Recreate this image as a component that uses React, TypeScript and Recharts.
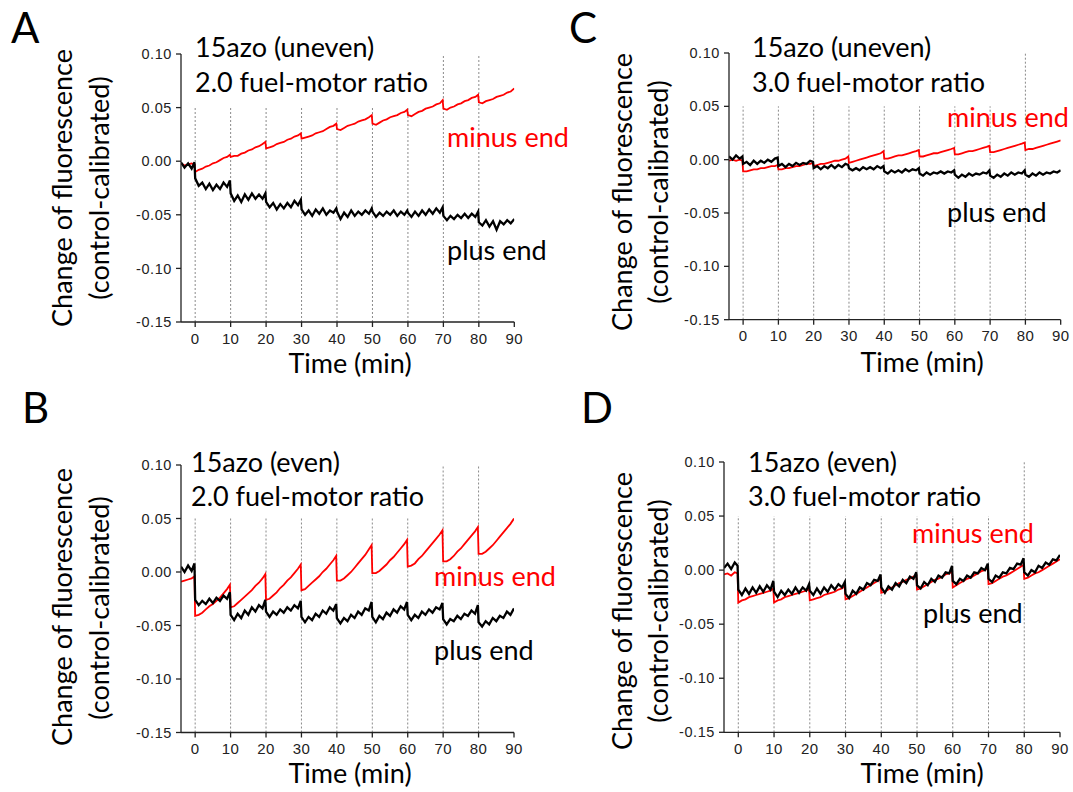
import { LineChart, Line, XAxis, YAxis, ReferenceLine } from "recharts";

// shared time axis (min); the x.8 points sit just before each fuel addition
const TIME = [
  -4, -3, -2, -1, -0.2,
  0, 1, 2, 3, 4, 5, 6, 7, 8, 9, 9.8,
  10, 11, 12, 13, 14, 15, 16, 17, 18, 19, 19.8,
  20, 21, 22, 23, 24, 25, 26, 27, 28, 29, 29.8,
  30, 31, 32, 33, 34, 35, 36, 37, 38, 39, 39.8,
  40, 41, 42, 43, 44, 45, 46, 47, 48, 49, 49.8,
  50, 51, 52, 53, 54, 55, 56, 57, 58, 59, 59.8,
  60, 61, 62, 63, 64, 65, 66, 67, 68, 69, 69.8,
  70, 71, 72, 73, 74, 75, 76, 77, 78, 79, 79.8,
  80, 81, 82, 83, 84, 85, 86, 87, 88, 89, 90,
];

const X_TICKS = [0, 10, 20, 30, 40, 50, 60, 70, 80, 90];
const Y_TICKS = [-0.15, -0.1, -0.05, 0, 0.05, 0.1];
const FUEL_TIMES = [0, 10, 20, 30, 40, 50, 60, 70, 80];

// A: 15azo (uneven), 2.0 ratio
const A_MINUS = [
  -0.002, -0.004, -0.003, -0.002, -0.003,
  -0.010, -0.008, -0.007, -0.005, -0.004, -0.002, -0.001, 0.001, 0.003, 0.004, 0.006,
  0.004, 0.005, 0.005, 0.007, 0.008, 0.010, 0.011, 0.013, 0.014, 0.016, 0.018,
  0.012, 0.013, 0.014, 0.016, 0.017, 0.018, 0.020, 0.021, 0.023, 0.024, 0.026,
  0.021, 0.022, 0.023, 0.024, 0.026, 0.027, 0.028, 0.030, 0.032, 0.033, 0.035,
  0.030, 0.029, 0.031, 0.033, 0.034, 0.035, 0.037, 0.038, 0.039, 0.041, 0.043,
  0.035, 0.034, 0.036, 0.038, 0.039, 0.041, 0.042, 0.043, 0.045, 0.046, 0.048,
  0.043, 0.042, 0.044, 0.046, 0.047, 0.049, 0.050, 0.051, 0.053, 0.054, 0.057,
  0.049, 0.048, 0.050, 0.051, 0.053, 0.054, 0.056, 0.057, 0.059, 0.060, 0.062,
  0.055, 0.054, 0.056, 0.057, 0.058, 0.060, 0.061, 0.062, 0.064, 0.065, 0.068,
];
const A_PLUS = [
  -0.001, -0.006, -0.002, -0.007, -0.001,
  -0.016, -0.023, -0.020, -0.026, -0.021, -0.027, -0.022, -0.026, -0.020, -0.024, -0.018,
  -0.030, -0.037, -0.032, -0.038, -0.031, -0.036, -0.030, -0.035, -0.031, -0.035, -0.030,
  -0.038, -0.043, -0.039, -0.045, -0.040, -0.044, -0.039, -0.043, -0.037, -0.041, -0.036,
  -0.045, -0.050, -0.046, -0.051, -0.045, -0.049, -0.044, -0.050, -0.046, -0.048, -0.044,
  -0.047, -0.054, -0.048, -0.052, -0.046, -0.051, -0.047, -0.050, -0.046, -0.049, -0.044,
  -0.047, -0.052, -0.048, -0.051, -0.047, -0.050, -0.046, -0.051, -0.047, -0.050, -0.046,
  -0.048, -0.052, -0.047, -0.051, -0.046, -0.050, -0.045, -0.049, -0.044, -0.048, -0.043,
  -0.051, -0.055, -0.051, -0.054, -0.050, -0.053, -0.049, -0.053, -0.049, -0.052, -0.047,
  -0.057, -0.060, -0.055, -0.061, -0.056, -0.064, -0.056, -0.059, -0.055, -0.058, -0.054,
];

// B: 15azo (even), 2.0 ratio
const B_MINUS = [
  -0.009, -0.008, -0.007, -0.006, -0.004,
  -0.041, -0.040, -0.038, -0.035, -0.032, -0.030, -0.027, -0.024, -0.020, -0.016, -0.012,
  -0.033, -0.032, -0.029, -0.026, -0.023, -0.020, -0.017, -0.013, -0.010, -0.006, -0.002,
  -0.026, -0.025, -0.022, -0.019, -0.015, -0.012, -0.008, -0.005, -0.001, 0.003, 0.007,
  -0.017, -0.016, -0.013, -0.010, -0.007, -0.004, 0.000, 0.003, 0.007, 0.011, 0.015,
  -0.008, -0.008, -0.006, -0.003, 0.000, 0.004, 0.008, 0.012, 0.016, 0.021, 0.025,
  -0.001, -0.001, 0.001, 0.004, 0.007, 0.011, 0.014, 0.018, 0.022, 0.026, 0.030,
  0.005, 0.006, 0.008, 0.012, 0.015, 0.019, 0.023, 0.027, 0.031, 0.035, 0.039,
  0.010, 0.010, 0.012, 0.015, 0.019, 0.022, 0.026, 0.030, 0.034, 0.038, 0.042,
  0.017, 0.017, 0.019, 0.022, 0.025, 0.029, 0.033, 0.037, 0.041, 0.045, 0.050,
];
const B_PLUS = [
  0.005, 0.000, 0.006, 0.001, 0.008,
  -0.026, -0.031, -0.027, -0.030, -0.025, -0.029, -0.024, -0.027, -0.022, -0.025, -0.019,
  -0.040, -0.045, -0.039, -0.043, -0.036, -0.040, -0.033, -0.037, -0.031, -0.034, -0.026,
  -0.037, -0.042, -0.037, -0.040, -0.035, -0.038, -0.033, -0.036, -0.031, -0.034, -0.027,
  -0.042, -0.047, -0.042, -0.045, -0.039, -0.042, -0.036, -0.039, -0.033, -0.036, -0.030,
  -0.043, -0.048, -0.043, -0.046, -0.040, -0.043, -0.037, -0.040, -0.034, -0.036, -0.028,
  -0.042, -0.047, -0.041, -0.044, -0.038, -0.041, -0.035, -0.038, -0.032, -0.035, -0.028,
  -0.040, -0.045, -0.040, -0.043, -0.037, -0.040, -0.035, -0.038, -0.033, -0.035, -0.029,
  -0.044, -0.049, -0.044, -0.046, -0.041, -0.044, -0.039, -0.041, -0.036, -0.039, -0.031,
  -0.047, -0.051, -0.046, -0.049, -0.043, -0.046, -0.041, -0.043, -0.037, -0.040, -0.034,
];

// C: 15azo (uneven), 3.0 ratio
const C_MINUS = [
  -0.001, 0.000, -0.001, 0.000, -0.001,
  -0.011, -0.011, -0.010, -0.009, -0.009, -0.008, -0.008, -0.007, -0.006, -0.006, -0.005,
  -0.009, -0.009, -0.008, -0.008, -0.007, -0.006, -0.006, -0.005, -0.004, -0.004, -0.003,
  -0.006, -0.005, -0.004, -0.004, -0.003, -0.002, -0.001, -0.001, 0.000, 0.001, 0.003,
  -0.003, -0.002, -0.001, 0.000, 0.001, 0.002, 0.003, 0.004, 0.005, 0.006, 0.008,
  0.001, 0.001, 0.002, 0.003, 0.004, 0.004, 0.005, 0.006, 0.007, 0.008, 0.009,
  0.003, 0.003, 0.004, 0.005, 0.006, 0.006, 0.007, 0.008, 0.009, 0.010, 0.011,
  0.005, 0.005, 0.006, 0.007, 0.008, 0.008, 0.009, 0.010, 0.011, 0.012, 0.013,
  0.007, 0.007, 0.008, 0.009, 0.010, 0.011, 0.012, 0.013, 0.014, 0.015, 0.016,
  0.009, 0.010, 0.010, 0.011, 0.012, 0.013, 0.014, 0.015, 0.016, 0.017, 0.018,
];
const C_PLUS = [
  0.003, 0.000, 0.004, 0.001, 0.003,
  -0.004, -0.002, -0.005, -0.001, -0.004, -0.001, -0.003, 0.000, -0.002, 0.001, 0.002,
  -0.006, -0.004, -0.007, -0.004, -0.006, -0.003, -0.005, -0.003, -0.004, -0.001, -0.002,
  -0.008, -0.006, -0.009, -0.006, -0.008, -0.005, -0.008, -0.005, -0.007, -0.004, -0.005,
  -0.008, -0.010, -0.008, -0.010, -0.007, -0.009, -0.007, -0.009, -0.006, -0.008, -0.006,
  -0.011, -0.013, -0.010, -0.012, -0.010, -0.012, -0.009, -0.011, -0.009, -0.010, -0.008,
  -0.013, -0.015, -0.012, -0.014, -0.012, -0.013, -0.011, -0.013, -0.011, -0.012, -0.010,
  -0.014, -0.017, -0.014, -0.016, -0.013, -0.015, -0.013, -0.014, -0.012, -0.013, -0.010,
  -0.015, -0.017, -0.014, -0.016, -0.013, -0.015, -0.012, -0.014, -0.012, -0.013, -0.010,
  -0.014, -0.016, -0.013, -0.015, -0.012, -0.014, -0.012, -0.013, -0.011, -0.012, -0.010,
];

// D: 15azo (even), 3.0 ratio
const D_MINUS = [
  -0.004, -0.003, -0.005, -0.002, -0.003,
  -0.030, -0.028, -0.027, -0.025, -0.024, -0.023, -0.022, -0.021, -0.020, -0.019, -0.017,
  -0.030, -0.028, -0.027, -0.025, -0.024, -0.023, -0.022, -0.021, -0.020, -0.019, -0.017,
  -0.028, -0.027, -0.026, -0.025, -0.023, -0.022, -0.021, -0.020, -0.018, -0.017, -0.015,
  -0.027, -0.026, -0.024, -0.022, -0.020, -0.018, -0.016, -0.014, -0.012, -0.010, -0.008,
  -0.021, -0.020, -0.018, -0.016, -0.014, -0.012, -0.011, -0.009, -0.008, -0.006, -0.005,
  -0.018, -0.017, -0.015, -0.013, -0.011, -0.009, -0.008, -0.006, -0.004, -0.003, -0.001,
  -0.016, -0.014, -0.012, -0.010, -0.008, -0.007, -0.005, -0.003, -0.001, 0.000, 0.002,
  -0.013, -0.012, -0.010, -0.008, -0.006, -0.005, -0.003, -0.001, 0.001, 0.003, 0.005,
  -0.008, -0.007, -0.005, -0.003, -0.002, 0.000, 0.002, 0.004, 0.006, 0.008, 0.010,
];
const D_PLUS = [
  0.002, 0.006, 0.001, 0.007, 0.004,
  -0.018, -0.023, -0.017, -0.022, -0.016, -0.021, -0.015, -0.020, -0.014, -0.018, -0.010,
  -0.020, -0.025, -0.019, -0.023, -0.018, -0.022, -0.016, -0.021, -0.016, -0.019, -0.013,
  -0.019, -0.023, -0.017, -0.022, -0.016, -0.020, -0.014, -0.018, -0.013, -0.016, -0.011,
  -0.022, -0.026, -0.019, -0.022, -0.016, -0.018, -0.012, -0.014, -0.009, -0.010, -0.004,
  -0.016, -0.021, -0.015, -0.018, -0.012, -0.015, -0.009, -0.012, -0.006, -0.008, -0.002,
  -0.014, -0.017, -0.011, -0.014, -0.008, -0.011, -0.005, -0.007, -0.002, -0.003, 0.004,
  -0.010, -0.013, -0.008, -0.010, -0.005, -0.007, -0.002, -0.003, 0.002, 0.000, 0.006,
  -0.008, -0.011, -0.005, -0.007, -0.002, -0.003, 0.002, 0.001, 0.006, 0.005, 0.011,
  -0.002, -0.005, 0.000, -0.002, 0.004, 0.002, 0.007, 0.005, 0.010, 0.009, 0.014,
];

const TEXT_FONT = "Lato, 'Open Sans', sans-serif";
const TICK_FONT = "'Liberation Sans', Arial, sans-serif";
const AXIS_COLOR = "#222";
const GRID_COLOR = "#8a8a8a";

const PANELS = [
  {
    letter: "A", lx: 11, ly: 43,
    minus: A_MINUS, plus: A_PLUS,
    left: 180.7, top: 54.3, width: 333.3, height: 268, tall: [70, 80],
    title: ["15azo (uneven)", "2.0 fuel-motor ratio"], tx: 195, ty: 57,
    minusPos: [447, 147], plusPos: [447, 260],
    timeX: 350, timeY: 373, yl1: [61, 188], yl2: [98, 188],
  },
  {
    letter: "C", lx: 569, ly: 43,
    minus: C_MINUS, plus: C_PLUS,
    left: 729.3, top: 53.3, width: 331.7, height: 266.7, tall: [80],
    title: ["15azo (uneven)", "3.0 fuel-motor ratio"], tx: 752, ty: 57,
    minusPos: [947, 127], plusPos: [947, 222],
    timeX: 922, timeY: 372, yl1: [621, 192], yl2: [657, 192],
  },
  {
    letter: "B", lx: 22, ly: 423,
    minus: B_MINUS, plus: B_PLUS,
    left: 181, top: 464.5, width: 333, height: 267.5, tall: [70, 80],
    title: ["15azo (even)", "2.0 fuel-motor ratio"], tx: 191, ty: 471.5,
    minusPos: [434, 586], plusPos: [434, 660],
    timeX: 350, timeY: 783, yl1: [61, 607], yl2: [98, 608],
  },
  {
    letter: "D", lx: 581, ly: 423,
    minus: D_MINUS, plus: D_PLUS,
    left: 723.7, top: 461.7, width: 336, height: 270.3, tall: [80],
    title: ["15azo (even)", "3.0 fuel-motor ratio"], tx: 748, ty: 471.5,
    minusPos: [912, 543], plusPos: [923, 623],
    timeX: 922, timeY: 783, yl1: [621, 611], yl2: [657, 611],
  },
];

const Y_AXIS_W = 60;
const PAD_TOP = 10;
const PAD_RIGHT = 14;
const X_AXIS_H = 30;

function Panel({ p }: { p: (typeof PANELS)[number] }) {
  const rows = TIME.map((t, i) => ({ t, minus: p.minus[i], plus: p.plus[i] }));
  return (
    <div style={{ position: "absolute", left: p.left - Y_AXIS_W, top: p.top - PAD_TOP }}>
      <LineChart
        width={p.width + Y_AXIS_W + PAD_RIGHT}
        height={p.height + PAD_TOP + X_AXIS_H}
        data={rows}
        margin={{ top: PAD_TOP, right: PAD_RIGHT, bottom: 0, left: 0 }}
      >
        <XAxis
          type="number"
          dataKey="t"
          domain={[-4, 90]}
          ticks={X_TICKS}
          allowDataOverflow
          height={X_AXIS_H}
          tickSize={5}
          tickMargin={6}
          axisLine={{ stroke: AXIS_COLOR, strokeWidth: 1.3 }}
          tickLine={{ stroke: AXIS_COLOR, strokeWidth: 1.3 }}
          tick={{ fill: AXIS_COLOR, fontSize: 15, fontFamily: TICK_FONT, letterSpacing: 0.4 }}
        />
        <YAxis
          type="number"
          domain={[-0.15, 0.1]}
          ticks={Y_TICKS}
          allowDataOverflow
          width={Y_AXIS_W}
          tickSize={5}
          tickMargin={4}
          tickFormatter={(v: number) => v.toFixed(2)}
          axisLine={{ stroke: AXIS_COLOR, strokeWidth: 1.3 }}
          tickLine={{ stroke: AXIS_COLOR, strokeWidth: 1.3 }}
          tick={{ fill: AXIS_COLOR, fontSize: 14.5, fontFamily: TICK_FONT, letterSpacing: 0.6 }}
        />
        {FUEL_TIMES.map((ft) => (
          <ReferenceLine
            key={ft}
            segment={[
              { x: ft, y: -0.15 },
              { x: ft, y: p.tall.includes(ft) ? 0.1 : 0.05 },
            ]}
            stroke={GRID_COLOR}
            strokeWidth={1}
            strokeDasharray="2 2"
          />
        ))}
        <Line
          type="linear"
          dataKey="minus"
          stroke="#ff0000"
          strokeWidth={1.8}
          dot={false}
          activeDot={false}
          isAnimationActive={false}
        />
        <Line
          type="linear"
          dataKey="plus"
          stroke="#000000"
          strokeWidth={2.3}
          strokeLinejoin="miter"
          dot={false}
          activeDot={false}
          isAnimationActive={false}
        />
      </LineChart>
    </div>
  );
}

function Labels() {
  return (
    <svg
      width={1073}
      height={792}
      style={{ position: "absolute", left: 0, top: 0, pointerEvents: "none" }}
      fontFamily={TEXT_FONT}
    >
      {PANELS.map((p) => (
        <g key={p.letter}>
          <text x={p.lx} y={p.ly} fontSize={42} fill="#000">{p.letter}</text>
          <text x={p.tx} y={p.ty} fontSize={27} fill="#000">{p.title[0]}</text>
          <text x={p.tx} y={p.ty + 34.5} fontSize={27} fill="#000">{p.title[1]}</text>
          <text x={p.minusPos[0]} y={p.minusPos[1]} fontSize={27} fill="#ff0000">minus end</text>
          <text x={p.plusPos[0]} y={p.plusPos[1]} fontSize={27} fill="#000">plus end</text>
          <text x={p.timeX} y={p.timeY} fontSize={27} fill="#000" textAnchor="middle">Time (min)</text>
          <text
            x={p.yl1[0]}
            y={p.yl1[1]}
            fontSize={27}
            fill="#000"
            textAnchor="middle"
            dominantBaseline="central"
            transform={`rotate(-90 ${p.yl1[0]} ${p.yl1[1]})`}
          >
            Change of fluorescence
          </text>
          <text
            x={p.yl2[0]}
            y={p.yl2[1]}
            fontSize={27}
            fill="#000"
            textAnchor="middle"
            dominantBaseline="central"
            transform={`rotate(-90 ${p.yl2[0]} ${p.yl2[1]})`}
          >
            (control-calibrated)
          </text>
        </g>
      ))}
    </svg>
  );
}

export default function App() {
  return (
    <div style={{ position: "absolute", left: 0, top: 0, width: 1073, height: 792, background: "#fff" }}>
      {PANELS.map((p) => (
        <Panel key={p.letter} p={p} />
      ))}
      <Labels />
    </div>
  );
}
